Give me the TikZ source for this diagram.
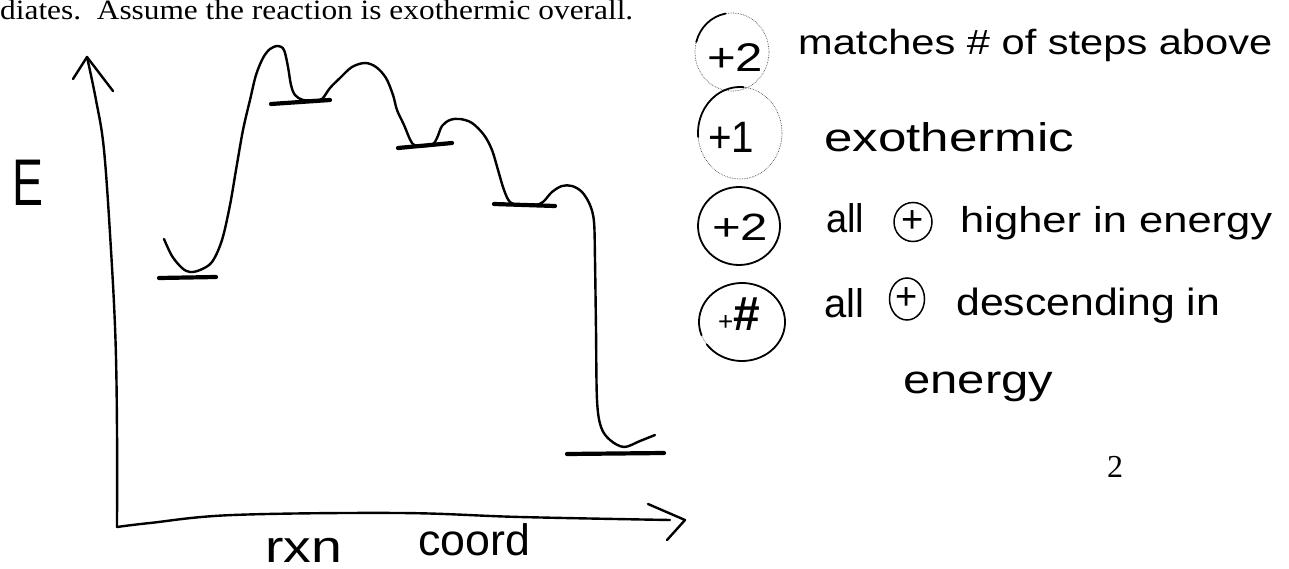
\documentclass[tikz,border=0pt]{standalone}
\usepackage{fontspec}
\setmainfont{Liberation Serif}
\newfontfamily\hand{Liberation Sans}
\usetikzlibrary{shapes.geometric}
\begin{document}
\begin{tikzpicture}[x=1pt,y=-1pt,
  pen/.style={line width=2.4pt, line cap=round, line join=round},
  level/.style={line width=4.2pt, line cap=round},
  faint/.style={line width=0.7pt, densely dotted, black!70},
  solidring/.style={line width=1.8pt, line cap=round},
  hw/.style={font=\hand, inner sep=0pt, anchor=base west},
  score/.style={font=\hand, inner sep=0pt},
  oplus/.style={ellipse, draw, line width=1.5pt, inner sep=0pt, font=\hand\fontsize{38}{38}\selectfont},
  printed/.style={inner sep=0pt, anchor=base west}]
\useasboundingbox (0,0) rectangle (1289,569);

% printed text
\node[printed, font=\fontsize{28}{28}\selectfont] (head) at (0,20)
  {\resizebox{633pt}{\height}{diates.\ \ Assume the reaction is exothermic overall.}};
\node[printed, font=\fontsize{32}{32}\selectfont] (pnum) at (1107,477) {2};

% axes
\coordinate (ytip) at (87,57);
\coordinate (origin) at (117,527);
\coordinate (xtip) at (685,520);
\draw[pen] plot[smooth, tension=0.6] coordinates {(87,57) (96,100) (104,150) (111,250) (115.5,340) (117,430) (117,527)};
\draw[pen] (73,79) -- (ytip) -- (113,91);
\draw[pen] plot[smooth, tension=0.6] coordinates {(117,527) (150,523) (233,515) (400,513) (520,517) (670,520)};
\draw[pen] (648,504) -- (xtip) -- (667,540);

% axis labels
\node[hw, font=\hand\fontsize{66}{66}\selectfont] (elab) at (12,206) {\resizebox{31pt}{\height}{E}};
\node[hw, font=\hand\fontsize{45}{45}\selectfont] (rxn) at (265,562) {\resizebox{77pt}{\height}{rxn}};
\node[hw, font=\hand\fontsize{44}{44}\selectfont] (coord) at (418,555) {\resizebox{112pt}{\height}{coord}};

% energy curve
\draw[pen] plot[smooth, tension=0.55] coordinates {
 (164,239) (172,256) (182,268) (190,272) (200,270) (212,262) (222,240) (230,205)
 (236,170) (243,130) (250,100) (256,75) (263,58) (270,49) (278,46) (284,50)
 (288,67) (291,85) (295,95) (303,100) (315,100) (322,99) (330,88) (340,78)
 (352,67) (365,63) (376,67) (386,78) (393,95) (397,110) (404,125) (412,143)
 (420,146) (432,145) (437,138) (442,126) (450,120) (460,119) (472,123) (484,135)
 (492,150) (498,170) (504,190) (510,202) (520,205) (535,205) (543,202) (552,192)
 (562,186) (572,186) (582,192) (590,205) (594,222) (595,260) (596,330) (597,400)
 (601,427) (610,440) (624,447) (640,441) (655,435)};

% energy levels
\draw[level] (159,278) -- (216,277);
\draw[level] (271,104) -- (330,100);
\draw[level] (398,148) -- (452,143);
\draw[level] (494,204) -- (555,206);
\draw[level] (567,454) -- (664,453);

% scores
\node[score, font=\hand\fontsize{40}{40}\selectfont] (s1) at (735,58) {\resizebox{56pt}{\height}{+2}};
\draw[faint] (732,52) ellipse [x radius=37, y radius=39];
\draw[solidring] (732,52) ++(-165:37 and 39) arc[start angle=-165, end angle=-100, x radius=37, y radius=39];

\node[score, font=\hand\fontsize{44}{44}\selectfont] (s2) at (731,137) {\resizebox{46pt}{\height}{+1}};
\draw[faint] (740,133) ellipse [x radius=42, y radius=46];
\draw[solidring] (740,133) ++(-185:42 and 46) arc[start angle=-185, end angle=-85, x radius=42, y radius=46];

\node[score, font=\hand\fontsize{38}{38}\selectfont] (s3) at (740,227) {\resizebox{56pt}{\height}{+2}};
\draw[solidring] (739,226) ellipse [x radius=41, y radius=39];

\node[score] (s4) at (739,314) {{\fontsize{26}{26}\selectfont +}{\fontsize{48}{48}\selectfont\bfseries\#}};
\draw[faint] (742,322) ellipse [x radius=43, y radius=39];
\draw[solidring] (742,322) ++(-200:43 and 39) arc[start angle=-200, end angle=145, x radius=43, y radius=39];

% handwritten remarks
\node[hw, font=\hand\fontsize{35}{35}\selectfont] (t1) at (798,55) {\resizebox{474pt}{\height}{matches \# of steps above}};
\node[hw, font=\hand\fontsize{40}{40}\selectfont] (t2) at (824,152) {\resizebox{250pt}{\height}{exothermic}};
\node[hw, font=\hand\fontsize{40}{40}\selectfont] (t3a) at (826,233) {\resizebox{38pt}{\height}{all}};
\node[oplus, minimum width=38pt, minimum height=39pt] (p3) at (913,222) {+};
\node[hw, font=\hand\fontsize{36}{36}\selectfont] (t3b) at (960,233) {\resizebox{312pt}{\height}{higher in energy}};
\node[hw, font=\hand\fontsize{40}{40}\selectfont] (t4a) at (824,317) {\resizebox{40pt}{\height}{all}};
\node[oplus, minimum width=35pt, minimum height=42pt] (p4) at (907,299) {+};
\node[hw, font=\hand\fontsize{38}{38}\selectfont] (t4b) at (956,315) {\resizebox{264pt}{\height}{descending in}};
\node[hw, font=\hand\fontsize{40}{40}\selectfont] (t5) at (903,393) {\resizebox{150pt}{\height}{energy}};
\end{tikzpicture}
\end{document}
